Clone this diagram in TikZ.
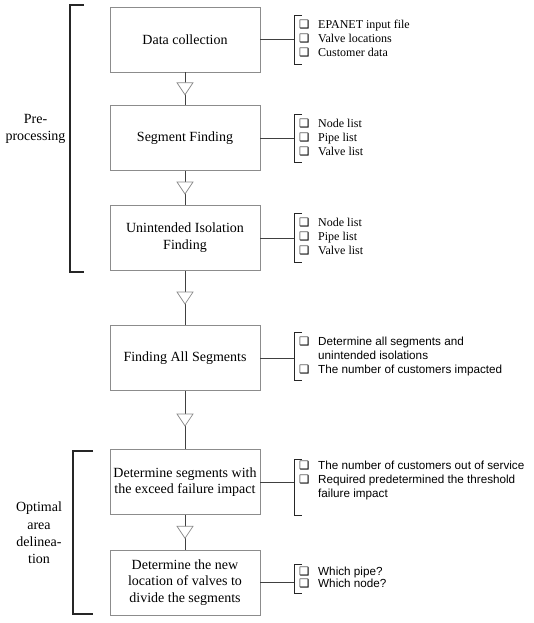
\documentclass[tikz,border=0pt]{standalone}
\usepackage{fontspec}
\setmainfont{Liberation Serif}
\setsansfont{Liberation Sans}
\newfontfamily\symfont{DejaVu Sans}
\usepackage{xcolor}
\definecolor{frame}{HTML}{8C8C8C}
\definecolor{wire}{HTML}{404040}
\definecolor{ink}{HTML}{262626}
\usetikzlibrary{decorations.markings}
\newcommand{\chk}{\makebox[8pt][l]{\symfont\fontsize{11.5}{11.5}\selectfont ❑}}
\tikzset{
    stage/.style = {
      draw = frame,
      line width = 0.8pt,
      minimum width = 150pt,
      minimum height = 65pt,
      inner sep = 2pt,
      align = center,
      font = \fontsize{14}{16.7}\selectfont
    },
    items/.style = {
      anchor = west,
      inner xsep = 0pt,
      inner ysep = 0pt,
      align = left,
      font = \fontsize{12}{14}\selectfont
    },
    sans items/.style = {
      items,
      font = \sffamily\fontsize{11.7}{14}\selectfont
    },
    side/.style = {
      align = center,
      font = \fontsize{14}{17.4}\selectfont
    },
    link/.style = {
      draw = wire,
      line width = 0.8pt
    },
    flow/.style = {
      link,
      decoration = {markings, mark = at position 0.5 with
        {\draw[fill = white, draw = frame, line width = 0.7pt]
          (-6pt,-8pt) -- (-6pt,8pt) -- (6pt,0pt) -- cycle;}},
      postaction = {decorate}
    },
    bracket/.style = {
      draw = ink,
      line width = 1pt
    },
    group/.style = {
      draw = ink,
      line width = 1.6pt
    },
}

\begin{document}
\begin{tikzpicture}[x=1pt, y=-1pt]
    \useasboundingbox (0,0) rectangle (534,623);

    % main stages
    \node[stage] (B1) at (185, 39.5) {Data collection};
    \node[stage] (B2) at (185, 138) {Segment Finding};
    \node[stage] (B3) at (185, 238) {Unintended Isolation\\Finding};
    \node[stage] (B4) at (185, 358) {Finding All Segments};
    \node[stage] (B5) at (185, 482) {Determine segments with\\the exceed failure impact};
    \node[stage] (B6) at (185, 582.5) {Determine the new\\location of valves to\\divide the segments};

    % outputs of each stage
    \node[items, minimum height = 48pt] (L1) at (294, 40) {%
      \begin{tabular}{@{\hspace{5pt}}l@{\hspace{11pt}}l@{}}
        \chk & EPANET input file\\
        \chk & Valve locations\\
        \chk & Customer data
      \end{tabular}};
    \node[items, minimum height = 47pt] (L2) at (294, 138.5) {%
      \begin{tabular}{@{\hspace{5pt}}l@{\hspace{11pt}}l@{}}
        \chk & Node list\\
        \chk & Pipe list\\
        \chk & Valve list
      \end{tabular}};
    \node[items, minimum height = 48pt] (L3) at (294, 238) {%
      \begin{tabular}{@{\hspace{5pt}}l@{\hspace{11pt}}l@{}}
        \chk & Node list\\
        \chk & Pipe list\\
        \chk & Valve list
      \end{tabular}};
    \node[sans items, minimum height = 47pt] (L4) at (294, 356.5) {%
      \begin{tabular}{@{\hspace{5pt}}l@{\hspace{11pt}}l@{}}
        \chk & Determine all segments and\\
             & unintended isolations\\
        \chk & The number of customers impacted
      \end{tabular}};
    \node[sans items, minimum height = 56pt] (L5) at (294, 487.5) {%
      \begin{tabular}{@{\hspace{5pt}}l@{\hspace{11pt}}l@{}}
        \chk & The number of customers out of service\\
        \chk & Required predetermined the threshold\\
             & failure impact\\
             &
      \end{tabular}};
    \node[sans items, minimum height = 28pt,
          font = \sffamily\fontsize{11.7}{12.5}\selectfont] (L6) at (294, 579) {%
      \begin{tabular}{@{\hspace{5pt}}l@{\hspace{11pt}}l@{}}
        \chk & Which pipe?\\
        \chk & Which node?
      \end{tabular}};

    % phase labels
    \node[side] (PRE) at (35.5, 129) {Pre-\\processing};
    \node[side] (OPT) at (39, 533) {Optimal\\area\\delinea-\\tion};

    \draw[group] (84, 5) -- (70, 5) -- (70, 272) -- (84, 272);
    \draw[group] (93, 451) -- (73, 451) -- (73, 614) -- (93, 614);

    \foreach \a/\b in {B1/B2, B2/B3, B3/B4, B4/B5, B5/B6}
        \draw[flow] (\a) -- (\b);

    \foreach \s/\l in {B1/L1, B2/L2, B3/L3, B4/L4, B5/L5, B6/L6} {
        \draw[link] (\s.east) -- (\s.east -| \l.west);
        \draw[bracket] ([xshift=8pt]\l.north west) -- (\l.north west)
            -- (\l.south west) -- ([xshift=8pt]\l.south west);
    }
\end{tikzpicture}
\end{document}
